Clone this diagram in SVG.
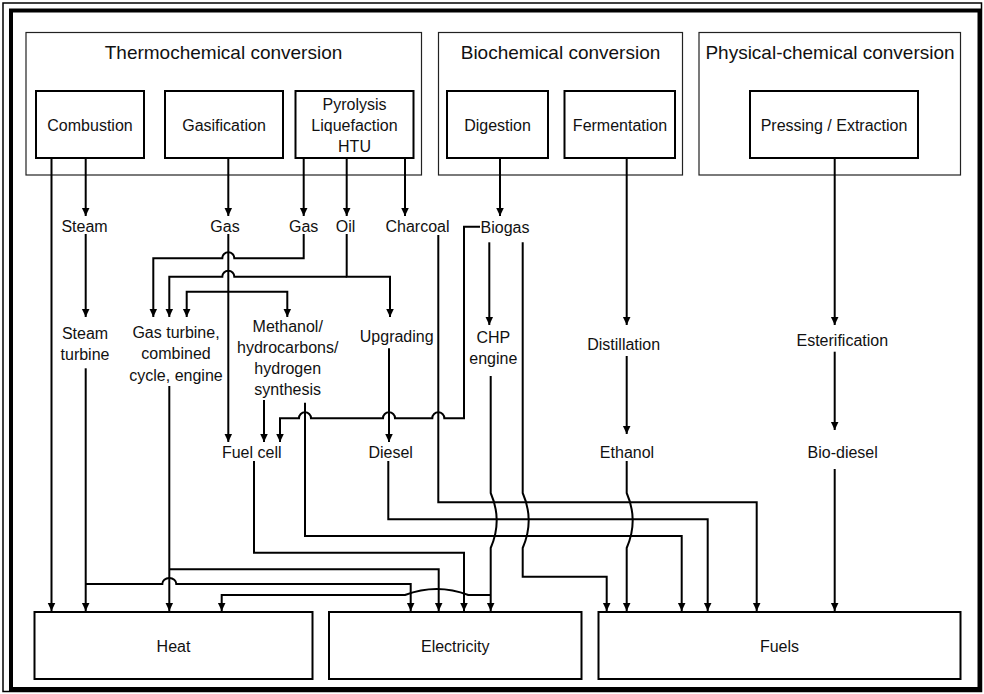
<svg xmlns="http://www.w3.org/2000/svg" width="984" height="694" viewBox="0 0 984 694">
<defs>
<marker id="ah" markerUnits="userSpaceOnUse" markerWidth="9" markerHeight="9" refX="8.5" refY="4.5" orient="auto"><path d="M0,0.5 L8.5,4.5 L0,8.5 z" fill="#000"/></marker>
<style>
text{font-family:"Liberation Sans",Arial,sans-serif;font-size:16px;fill:#111;text-anchor:middle}
.title{font-size:19px}
.cont{fill:#fff;stroke:#222;stroke-width:1.2}
.box{fill:#fff;stroke:#000;stroke-width:2}
.c path{fill:none;stroke:#000;stroke-width:2}
.c .a{marker-end:url(#ah)}
</style>
</defs>
<rect x="0" y="0" width="984" height="694" fill="#fff"/>
<rect x="3" y="3" width="978.5" height="688.5" fill="none" stroke="#000" stroke-width="1.5"/>
<rect x="11" y="10.5" width="968.5" height="678.5" fill="none" stroke="#000" stroke-width="4"/>

<g id="thermochemical">
<rect class="cont" x="26" y="32.5" width="395.5" height="142.5"/>
<text class="title" x="223.5" y="58.5">Thermochemical conversion</text>
</g>
<g id="biochemical">
<rect class="cont" x="438.5" y="32.5" width="244" height="142.5"/>
<text class="title" x="560.5" y="58.5">Biochemical conversion</text>
</g>
<g id="physical-chemical">
<rect class="cont" x="699" y="32.5" width="261.5" height="142.5"/>
<text class="title" x="830" y="58.5">Physical-chemical conversion</text>
</g>

<g id="combustion"><rect class="box" x="36" y="91" width="108" height="67"/><text x="90" y="131">Combustion</text></g>
<g id="gasification"><rect class="box" x="165" y="91" width="118" height="67"/><text x="224" y="131">Gasification</text></g>
<g id="pyrolysis"><rect class="box" x="295.5" y="91" width="118" height="67"/><text x="354.5" y="110">Pyrolysis</text><text x="354.5" y="131">Liquefaction</text><text x="354.5" y="152">HTU</text></g>
<g id="digestion"><rect class="box" x="447" y="91" width="101" height="67"/><text x="497.5" y="131">Digestion</text></g>
<g id="fermentation"><rect class="box" x="564.5" y="91" width="110.5" height="67"/><text x="620" y="131">Fermentation</text></g>
<g id="pressing"><rect class="box" x="750" y="91" width="168" height="67"/><text x="834" y="131">Pressing / Extraction</text></g>

<g id="steam"><text x="84.5" y="232.3">Steam</text></g>
<g id="gas1"><text x="225" y="232.3">Gas</text></g>
<g id="gas2"><text x="303.7" y="232.3">Gas</text></g>
<g id="oil"><text x="345.5" y="232.3">Oil</text></g>
<g id="charcoal"><text x="417.5" y="232.3">Charcoal</text></g>
<g id="biogas"><text x="505" y="232.8">Biogas</text></g>
<g id="steam-turbine"><text x="85" y="338.5">Steam</text><text x="85" y="360">turbine</text></g>
<g id="gas-turbine"><text x="176" y="337.5">Gas turbine,</text><text x="176" y="359">combined</text><text x="176" y="380.5">cycle, engine</text></g>
<g id="synthesis"><text x="287.7" y="331.5">Methanol/</text><text x="287.7" y="352.5">hydrocarbons/</text><text x="287.7" y="373.5">hydrogen</text><text x="287.7" y="394.5">synthesis</text></g>
<g id="upgrading"><text x="396.7" y="341.5">Upgrading</text></g>
<g id="chp"><text x="493.3" y="343">CHP</text><text x="493.3" y="364">engine</text></g>
<g id="distillation"><text x="623.7" y="349.5">Distillation</text></g>
<g id="esterification"><text x="842.3" y="345.5">Esterification</text></g>
<g id="fuel-cell"><text x="251.7" y="458">Fuel cell</text></g>
<g id="diesel"><text x="390.7" y="458">Diesel</text></g>
<g id="ethanol"><text x="627" y="458">Ethanol</text></g>
<g id="bio-diesel"><text x="842.7" y="458">Bio-diesel</text></g>

<g id="heat"><rect class="box" x="34.5" y="612" width="278" height="67"/><text x="173.5" y="651.5">Heat</text></g>
<g id="electricity"><rect class="box" x="329" y="612" width="252.5" height="67"/><text x="455.2" y="651.5">Electricity</text></g>
<g id="fuels"><rect class="box" x="598.5" y="612" width="362" height="67"/><text x="779.5" y="651.5">Fuels</text></g>

<g id="connectors" class="c">
<path class="a" d="M51.5,158 V611"/>
<path class="a" d="M85.7,158 V216"/>
<path class="a" d="M228.3,158 V216"/>
<path class="a" d="M303.7,158 V216"/>
<path class="a" d="M346.7,158 V216"/>
<path class="a" d="M405,158 V216"/>
<path class="a" d="M500,158 V216"/>
<path class="a" d="M626.7,158 V325"/>
<path class="a" d="M834.7,158 V325"/>
<path class="a" d="M85.7,234 V317"/>
<path class="a" d="M228.3,234 V442"/>
<path class="a" d="M228.3,291.7 H186.7 V317"/>
<path class="a" d="M228.3,291.7 H287.3 V317"/>
<path class="a" d="M303.7,234 V258.3 H234.3 A6,6 0 0 0 222.3,258.3 H153.3 V317"/>
<path class="a" d="M346.7,234 V276.7 H390 V317"/>
<path class="a" d="M346.7,276.7 H234.3 A6,6 0 0 0 222.3,276.7 H169.3 V317"/>
<path class="a" d="M438.3,235 V502.3 H756.7 V611"/>
<path class="a" d="M480,226.7 H464 V418.3 H444.3 A6,6 0 0 0 432.3,418.3 H395 A6,6 0 0 0 383,418.3 H311 A6,6 0 0 0 299,418.3 H280 V442"/>
<path class="a" d="M489.3,242.3 V325"/>
<path class="a" d="M522.7,242.3 V493 Q534.7,520.5 522.7,548 V576.7 H606.7 V611"/>
<path class="a" d="M626.7,356 V434"/>
<path class="a" d="M626.7,461 V493 Q638.7,520.5 626.7,548 V611"/>
<path class="a" d="M834.7,351.7 V430"/>
<path class="a" d="M834.7,469 V611"/>
<path class="a" d="M85.7,368.3 V611"/>
<path class="a" d="M85.7,584 H162.3 A7,6 0 0 1 176.3,584 H410.7 V611"/>
<path class="a" d="M169.3,386 V611"/>
<path class="a" d="M169.3,569.3 H438.7 V611"/>
<path class="a" d="M264,400 V442"/>
<path class="a" d="M305,402.7 V536 H681.7 V611"/>
<path class="a" d="M389,348.3 V442"/>
<path class="a" d="M254,461 V552.7 H464 V611"/>
<path class="a" d="M388.3,461 V519.3 H707.7 V611"/>
<path class="a" d="M490.7,376 V493 Q502.7,520.5 490.7,548 V611"/>
<path class="a" d="M490.7,595 H468.3 Q436.7,583 405,595 H221.7 V611"/>
</g>
</svg>
